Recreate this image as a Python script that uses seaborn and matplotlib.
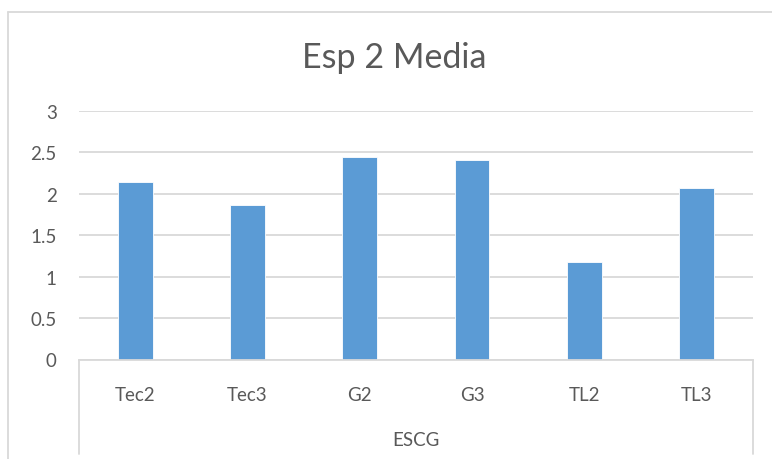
import matplotlib
matplotlib.use("Agg")
import matplotlib.pyplot as plt
from matplotlib.lines import Line2D
import seaborn as sns
import pandas as pd

categories = ["Tec2", "Tec3", "G2", "G3", "TL2", "TL3"]
values = [2.14, 1.87, 2.44, 2.41, 1.18, 2.07]
group_label = "ESCG"
title = "Esp 2 Media"
y_ticks = [0, 0.5, 1, 1.5, 2, 2.5, 3]

sns.set_theme(style="white")
plt.rcParams["font.family"] = ["Lato", "DejaVu Sans"]

text_color = "#595959"
grid_color = "#D9D9D9"
bar_color = "#5B9BD5"

df = pd.DataFrame({"cat": categories, "val": values})

fig = plt.figure(figsize=(7.72, 4.6), dpi=100)
ax = fig.add_axes([79 / 772, 1 - 360.5 / 460, (752.7 - 79) / 772, (360.5 - 112) / 460])

sns.barplot(data=df, x="cat", y="val", color=bar_color, saturation=1,
            width=0.31, ax=ax, edgecolor="white", linewidth=0.6)

ax.set_ylim(0, 3)
ax.set_xlim(-0.5, len(categories) - 0.5)
ax.set_yticks(y_ticks)
ax.set_yticklabels([f"{t:g}" for t in y_ticks])
ax.yaxis.grid(True, color=grid_color, linewidth=1.3)
ax.set_axisbelow(True)
for s in ["top", "right", "left"]:
    ax.spines[s].set_visible(False)
ax.spines["bottom"].set_color(grid_color)
ax.spines["bottom"].set_linewidth(1.3)
ax.tick_params(axis="y", length=0, pad=16, labelsize=13.5, labelcolor=text_color)
ax.tick_params(axis="x", length=0, pad=19, labelsize=13.5, labelcolor=text_color)
ax.set_xlabel("")
ax.set_ylabel("")

# group label under the categories, boxed by two vertical separators
ax.text(0.5, -0.32, group_label, transform=ax.transAxes, ha="center", va="center",
        fontsize=13.5, color=text_color)
for xf in (79 / 772, 752.7 / 772):
    fig.add_artist(Line2D([xf, xf], [1 - 360.5 / 460, 1 - 455 / 460],
                          color=grid_color, linewidth=1.3))

# chart frame
fig.add_artist(Line2D([8 / 772, 8 / 772], [1 - 13 / 460, 0], color=grid_color, linewidth=1.3))
fig.add_artist(Line2D([8 / 772, 1], [1 - 13 / 460, 1 - 13 / 460], color=grid_color, linewidth=1.3))

fig.text(394 / 772, 1 - 58 / 460, title, ha="center", va="center", fontsize=24.5,
         color=text_color)

fig.savefig("out.png", dpi=100)
